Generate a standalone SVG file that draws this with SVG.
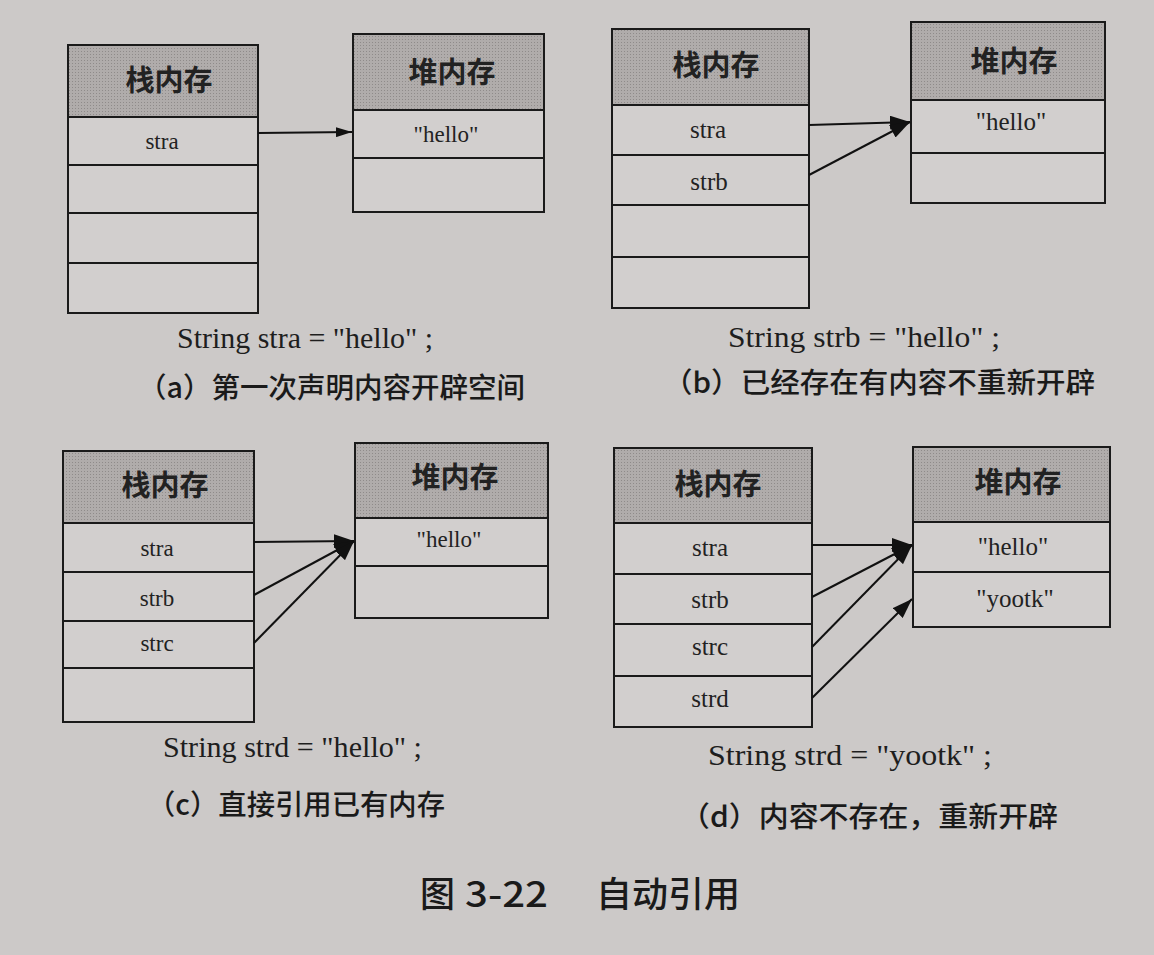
<svg xmlns="http://www.w3.org/2000/svg" width="1154" height="955" viewBox="0 0 1154 955">
<defs>
<pattern id="dots" width="3" height="3" patternUnits="userSpaceOnUse">
<rect width="3" height="3" fill="#b0acab"/>
<rect width="1" height="1" fill="#8f8b8a"/>
</pattern>
<marker id="ah" markerUnits="userSpaceOnUse" markerWidth="22" markerHeight="14" refX="20" refY="7" orient="auto">
<path d="M0,0 L20,7 L0,14 z" fill="#111"/>
</marker>
<marker id="ahs" markerUnits="userSpaceOnUse" markerWidth="18" markerHeight="10" refX="16" refY="5" orient="auto">
<path d="M0,0 L16,5 L0,10 z" fill="#111"/>
</marker>
</defs>
<style>
.bg{fill:#ccc9c8}
.hd{fill:url(#dots);stroke:#1a1a1a;stroke-width:2}
.cell{fill:#d2cfce;stroke:#1a1a1a;stroke-width:2}
.ln{stroke:#1a1a1a;stroke-width:2;fill:none}
.h{font-family:"Noto Sans CJK SC",sans-serif;font-weight:700;font-size:29px;fill:#222;text-anchor:middle}
.v{font-family:"Liberation Serif",serif;font-size:23px;fill:#222;text-anchor:middle}
.vb{font-size:25px}
.code{font-family:"Liberation Serif",serif;font-size:29px;fill:#1e1e1e}
.cap{font-family:"Noto Sans CJK SC",sans-serif;font-size:28px;font-weight:500;fill:#1a1a1a}
.title{font-family:"Noto Sans CJK SC",sans-serif;font-size:35px;font-weight:500;fill:#1a1a1a}
.arr{stroke:#111;stroke-width:2;fill:none;marker-end:url(#ah)}
.arrs{stroke:#111;stroke-width:2;fill:none;marker-end:url(#ahs)}
</style>
<rect class="bg" x="0" y="0" width="1154" height="955"/>

<!-- Panel a -->
<g id="a-stack">
<rect class="hd" x="68" y="45" width="190" height="72"/>
<rect class="cell" x="68" y="117" width="190" height="196"/>
<line class="ln" x1="68" y1="165" x2="258" y2="165"/>
<line class="ln" x1="68" y1="213" x2="258" y2="213"/>
<line class="ln" x1="68" y1="263" x2="258" y2="263"/>
<text class="h" x="169" y="91">栈内存</text>
<text class="v" x="162" y="149">stra</text>
</g>
<g id="a-heap">
<rect class="hd" x="353" y="34" width="191" height="76"/>
<rect class="cell" x="353" y="110" width="191" height="102"/>
<line class="ln" x1="353" y1="158" x2="544" y2="158"/>
<text class="h" x="452" y="83">堆内存</text>
<text class="v" x="446" y="142">"hello"</text>
</g>

<!-- Panel b -->
<g id="b-stack">
<rect class="hd" x="612" y="29" width="197" height="76"/>
<rect class="cell" x="612" y="105" width="197" height="203"/>
<line class="ln" x1="612" y1="155" x2="809" y2="155"/>
<line class="ln" x1="612" y1="205" x2="809" y2="205"/>
<line class="ln" x1="612" y1="257" x2="809" y2="257"/>
<text class="h" x="716" y="76">栈内存</text>
<text class="v vb" x="708" y="138">stra</text>
<text class="v vb" x="709" y="190">strb</text>
</g>
<g id="b-heap">
<rect class="hd" x="911" y="22" width="194" height="78"/>
<rect class="cell" x="911" y="100" width="194" height="103"/>
<line class="ln" x1="911" y1="153" x2="1105" y2="153"/>
<text class="h" x="1014" y="72">堆内存</text>
<text class="v vb" x="1011" y="130">"hello"</text>
</g>

<!-- Panel c -->
<g id="c-stack">
<rect class="hd" x="63" y="451" width="191" height="72"/>
<rect class="cell" x="63" y="523" width="191" height="199"/>
<line class="ln" x1="63" y1="572" x2="254" y2="572"/>
<line class="ln" x1="63" y1="621" x2="254" y2="621"/>
<line class="ln" x1="63" y1="668" x2="254" y2="668"/>
<text class="h" x="165" y="496">栈内存</text>
<text class="v" x="157" y="556">stra</text>
<text class="v" x="157" y="606">strb</text>
<text class="v" x="157" y="651">strc</text>
</g>
<g id="c-heap">
<rect class="hd" x="355" y="443" width="193" height="75"/>
<rect class="cell" x="355" y="518" width="193" height="100"/>
<line class="ln" x1="355" y1="566" x2="548" y2="566"/>
<text class="h" x="455" y="488">堆内存</text>
<text class="v" x="449" y="547">"hello"</text>
</g>

<!-- Panel d -->
<g id="d-stack">
<rect class="hd" x="614" y="448" width="198" height="75"/>
<rect class="cell" x="614" y="523" width="198" height="204"/>
<line class="ln" x1="614" y1="574" x2="812" y2="574"/>
<line class="ln" x1="614" y1="624" x2="812" y2="624"/>
<line class="ln" x1="614" y1="676" x2="812" y2="676"/>
<text class="h" x="718" y="495">栈内存</text>
<text class="v vb" x="710" y="556">stra</text>
<text class="v vb" x="710" y="608">strb</text>
<text class="v vb" x="710" y="655">strc</text>
<text class="v vb" x="710" y="707">strd</text>
</g>
<g id="d-heap">
<rect class="hd" x="913" y="447" width="197" height="75"/>
<rect class="cell" x="913" y="522" width="197" height="105"/>
<line class="ln" x1="913" y1="572" x2="1110" y2="572"/>
<text class="h" x="1018" y="493">堆内存</text>
<text class="v vb" x="1013" y="555">"hello"</text>
<text class="v vb" x="1015" y="607">"yootk"</text>
</g>

<g id="connectors">
<line class="arrs" x1="258" y1="133" x2="352" y2="132"/>
<line class="arr" x1="809" y1="125" x2="910" y2="122"/>
<line class="arr" x1="809" y1="175" x2="910" y2="122"/>
<line class="arr" x1="254" y1="542" x2="354" y2="541"/>
<line class="arr" x1="254" y1="595" x2="354" y2="541"/>
<line class="arr" x1="254" y1="643" x2="354" y2="541"/>
<line class="arr" x1="812" y1="545" x2="912" y2="545"/>
<line class="arr" x1="812" y1="597" x2="912" y2="545"/>
<line class="arr" x1="812" y1="647" x2="912" y2="545"/>
<line class="arr" x1="812" y1="698" x2="912" y2="599"/>
</g>

<g id="captions">
<text class="code" x="177" y="348" textLength="256" lengthAdjust="spacingAndGlyphs">String stra = "hello" ;</text>
<text class="cap" x="138" y="398" textLength="387" lengthAdjust="spacingAndGlyphs">（a）第一次声明内容开辟空间</text>
<text class="code" x="728" y="347" textLength="272" lengthAdjust="spacingAndGlyphs">String strb = "hello" ;</text>
<text class="cap" x="663" y="393" textLength="432" lengthAdjust="spacingAndGlyphs">（b）已经存在有内容不重新开辟</text>
<text class="code" x="163" y="757" textLength="259" lengthAdjust="spacingAndGlyphs">String strd = "hello" ;</text>
<text class="cap" x="147" y="815" textLength="298" lengthAdjust="spacingAndGlyphs">（c）直接引用已有内存</text>
<text class="code" x="708" y="765" textLength="284" lengthAdjust="spacingAndGlyphs">String strd = "yootk" ;</text>
<text class="cap" x="680" y="827" textLength="378" lengthAdjust="spacingAndGlyphs">（d）内容不存在，重新开辟</text>
<text class="title" y="907"><tspan x="420">图</tspan><tspan x="465" textLength="83" lengthAdjust="spacingAndGlyphs">3-22</tspan><tspan x="596" textLength="144" lengthAdjust="spacingAndGlyphs">自动引用</tspan></text>
</g>
</svg>
